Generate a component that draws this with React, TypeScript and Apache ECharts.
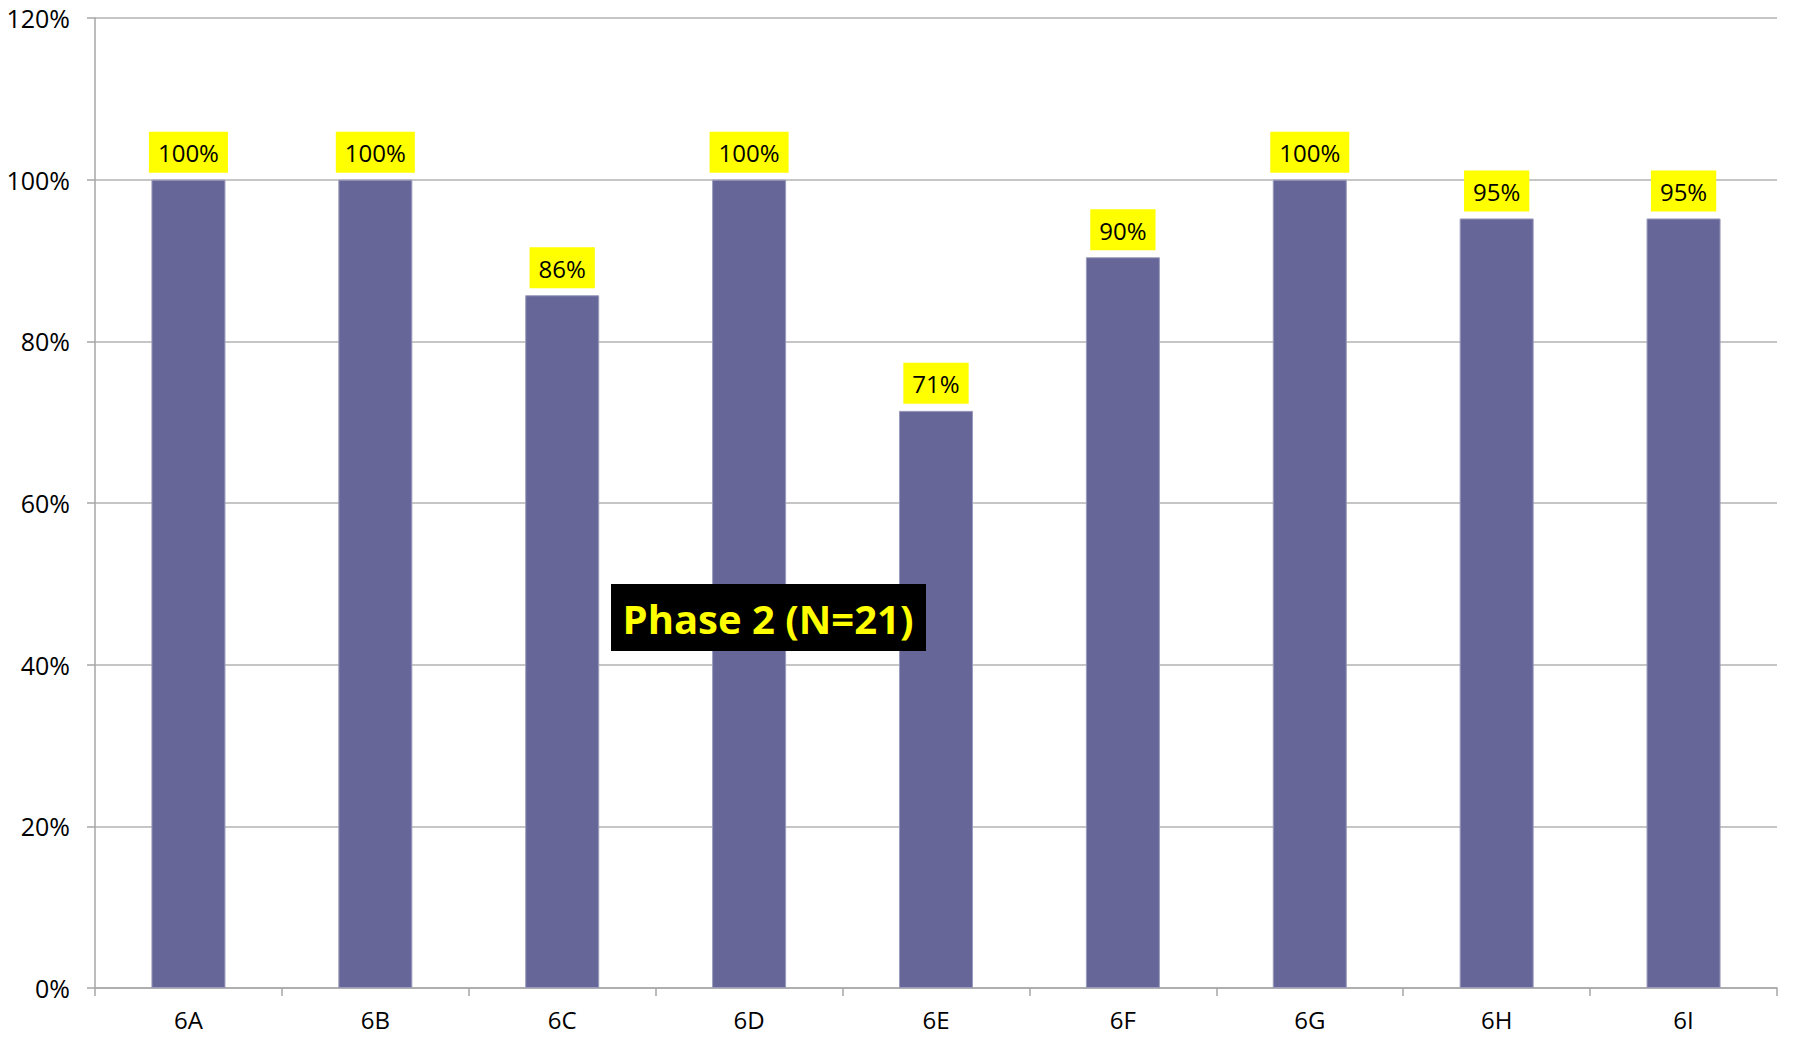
import React, { useEffect, useRef } from "react";
import * as echarts from "echarts";

const categories = ["6A", "6B", "6C", "6D", "6E", "6F", "6G", "6H", "6I"];
const values = [100, 100, 85.7, 100, 71.4, 90.4, 100, 95.2, 95.2];
const yTicks = { min: 0, max: 120, interval: 20 };
const annotation = "Phase 2 (N=21)";

const FONT = "'Open Sans', sans-serif";

export default function App() {
  const ref = useRef<HTMLDivElement>(null);
  useEffect(() => {
    if (!ref.current) return;
    const chart = echarts.init(ref.current, null, { renderer: "svg" });
    chart.setOption({
      animation: false,
      backgroundColor: "#ffffff",
      grid: { left: 95, right: 19, top: 18, bottom: 49, containLabel: false },
      xAxis: {
        type: "category",
        data: categories,
        boundaryGap: true,
        axisLine: { show: true, lineStyle: { color: "#a6a6a6", width: 1.5 } },
        axisTick: { show: true, length: 8, lineStyle: { color: "#a6a6a6", width: 1.5 } },
        axisLabel: { color: "#000", fontSize: 24, fontFamily: FONT, margin: 19 },
      },
      yAxis: {
        type: "value",
        min: yTicks.min,
        max: yTicks.max,
        interval: yTicks.interval,
        axisLine: { show: true, lineStyle: { color: "#a6a6a6", width: 1.5 } },
        axisTick: { show: true, length: 8, lineStyle: { color: "#a6a6a6", width: 1.5 } },
        splitLine: { show: true, lineStyle: { color: "#b3b3b3", width: 1.5 } },
        axisLabel: {
          color: "#000",
          fontSize: 25,
          fontFamily: FONT,
          margin: 25,
          formatter: "{value}%",
        },
      },
      series: [
        {
          type: "bar",
          data: values,
          barWidth: 74,
          itemStyle: { color: "#666699", borderColor: "#9a9abb", borderWidth: 1 },
          label: {
            show: true,
            position: "top",
            distance: 7,
            formatter: (p: any) => Math.round(p.value) + "%",
            color: "#000",
            fontSize: 24,
            fontFamily: FONT,
            backgroundColor: "#ffff00",
            padding: [9, 9, 8, 9],
          },
        },
      ],
      graphic: [
        {
          type: "rect",
          left: 611,
          top: 584,
          shape: { width: 315, height: 67 },
          style: { fill: "#000000" },
          z: 100,
        },
        {
          type: "text",
          x: 768,
          y: 618,
          z: 101,
          style: {
            text: annotation,
            fill: "#ffff00",
            font: "bold 40px 'Open Sans', sans-serif",
            align: "center",
            verticalAlign: "middle",
          },
        },
      ],
    });
    return () => chart.dispose();
  }, []);
  return (
    <div
      ref={ref}
      style={{ position: "absolute", left: 0, top: 0, width: 1796, height: 1037 }}
    />
  );
}
